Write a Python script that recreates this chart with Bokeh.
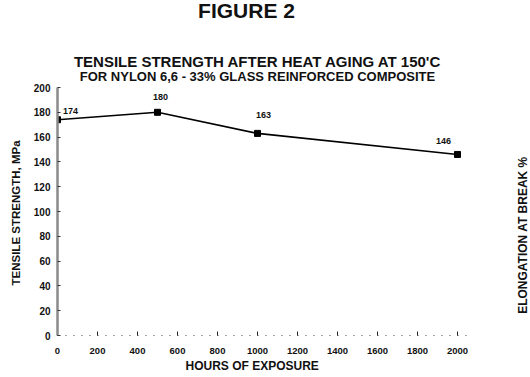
from bokeh.plotting import figure
from bokeh.models import ColumnDataSource, LabelSet, FixedTicker, Range1d, Title
from bokeh.core.properties import value
from bokeh.embed import file_html
from bokeh.resources import INLINE

# ---- data ----
hours = [0, 500, 1000, 2000]
strength = [174, 180, 163, 146]
point_labels = ["174", "180", "163", "146"]
x_ticks = [0, 200, 400, 600, 800, 1000, 1200, 1400, 1600, 1800, 2000]
y_ticks = [0, 20, 40, 60, 80, 100, 120, 140, 160, 180, 200]

# label offsets (screen px) for value labels
label_dx = [13, 3, 6, -14]
label_dy = [9, 15, 18, 13]

FONT = "Liberation Sans"
INK = "#111111"

W, H = 530, 377
LEFT, BOTTOM = 57, 42
PX_PER_HOUR = 0.2
PX_PER_MPA = 1.24
x_end = (W - LEFT) / PX_PER_HOUR
y_end = (H - BOTTOM) / PX_PER_MPA

p = figure(width=W, height=H, output_backend="svg", toolbar_location=None,
           x_range=Range1d(0, x_end), y_range=Range1d(0, y_end),
           min_border_left=LEFT, min_border_right=0, min_border_top=0,
           min_border_bottom=BOTTOM)
p.outline_line_color = None
p.xgrid.grid_line_color = None
p.ygrid.grid_line_color = None
p.background_fill_color = "white"
p.border_fill_color = "white"

# axes
p.xaxis.ticker = FixedTicker(ticks=x_ticks)
p.yaxis.ticker = FixedTicker(ticks=y_ticks)
for ax in (p.xaxis[0], p.yaxis[0]):
    ax.major_label_text_font = FONT
    ax.major_label_text_font_style = "bold"
    ax.major_label_text_color = INK
    ax.minor_tick_line_color = None
    ax.major_tick_out = 0

p.yaxis.bounds = (0, 200)
p.yaxis.major_label_text_font_size = "10px"
p.yaxis.major_label_standoff = 7
p.yaxis.axis_line_color = "#8a8a8a"
p.yaxis.axis_line_width = 2.5
p.yaxis.major_tick_in = 3
p.yaxis.major_tick_line_color = "#333333"

p.xaxis.bounds = (0, 2060)
p.xaxis.major_label_text_font_size = "9.5px"
p.xaxis.major_label_standoff = 12
p.xaxis.axis_line_color = "#444444"
p.xaxis.axis_line_dash = "1 7"
p.xaxis.major_tick_in = 4
p.xaxis.major_tick_line_color = "#222222"

# axis titles (as side titles so they can be positioned along the axis)
p.add_layout(Title(text="TENSILE STRENGTH, MPa", align="left", offset=50, standoff=13,
                   vertical_align="top",
                   text_font=FONT, text_font_style="bold", text_font_size="11.5px",
                   text_color=INK), "left")
p.add_layout(Title(text="HOURS OF EXPOSURE", align="left", offset=128, standoff=0,
                   text_font=FONT, text_font_style="bold", text_font_size="12px",
                   text_color=INK), "below")

# data
src = ColumnDataSource(dict(x=hours, y=strength, t=point_labels, dx=label_dx, dy=label_dy))
p.line("x", "y", source=src, line_color="black", line_width=1.6)
p.scatter("x", "y", source=src, marker="square", size=6, color="black")
p.add_layout(LabelSet(x="x", y="y", text="t", source=src, x_offset="dx", y_offset="dy",
                      text_align="center", text_baseline="middle",
                      text_font=value(FONT), text_font_style="bold", text_font_size="9px",
                      text_color=INK))

def txt(text, x, y, size, angle=0):
    p.text(x=[x], y=[y], text=[text], text_align="center", text_baseline="middle",
           text_font=value(FONT), text_font_style="bold", text_font_size=size,
           text_color=INK, angle=angle, angle_units="deg")

txt("FIGURE 2", 945, 262, "21px")
txt("TENSILE STRENGTH AFTER HEAT AGING AT 150'C", 1002, 221, "15px")
txt("FOR NYLON 6,6 - 33% GLASS REINFORCED COMPOSITE", 1000, 208.5, "13px")
txt("ELONGATION AT BREAK %", 2325, 81, "12px", angle=90)

open("out.html", "w").write(file_html(p, INLINE))
